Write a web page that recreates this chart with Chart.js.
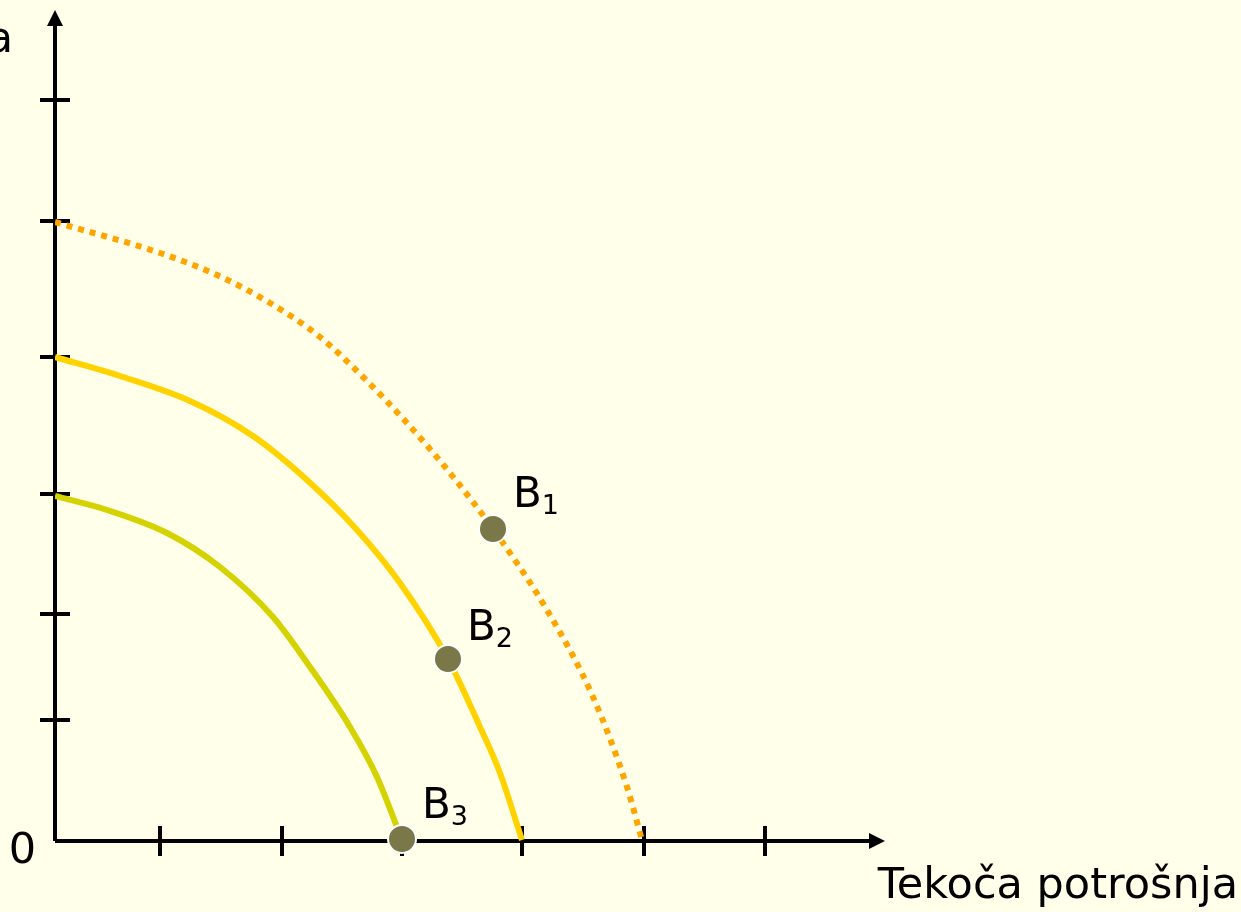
<!DOCTYPE html>
<html>
<head>
<meta charset="utf-8">
<script src="https://cdn.jsdelivr.net/npm/chart.js@4"></script>
<style>
  html, body { margin: 0; padding: 0; background: #FFFFEA; }
  #wrap { width: 1241px; height: 912px; position: relative; }
</style>
</head>
<body>
<div id="wrap"><canvas id="chart"></canvas></div>
<script>
// axis units (arbitrary, origin at 0)
const xMax = 830;
const yMax = 831;
const xTicks = [105, 227, 347, 467, 589, 710];
const yTicks = [121, 227, 347, 484, 620, 741];

// curves
const curveB1 = [
  { x: 0, y: 619 }, { x: 105, y: 588 }, { x: 162, y: 566 }, { x: 215, y: 538 },
  { x: 265, y: 504 }, { x: 308, y: 464 }, { x: 352, y: 418 }, { x: 395, y: 368 },
  { x: 438, y: 312 }, { x: 492, y: 231 }, { x: 538, y: 144 }, { x: 572, y: 54 },
  { x: 587, y: 1 }
];
const curveB2 = [
  { x: 0, y: 484 }, { x: 65, y: 465 }, { x: 135, y: 440 }, { x: 198, y: 405 },
  { x: 252, y: 361 }, { x: 302, y: 311 }, { x: 345, y: 258 }, { x: 393, y: 182 },
  { x: 425, y: 114 }, { x: 445, y: 68 }, { x: 467, y: 1 }
];
const curveB3 = [
  { x: 0, y: 345 }, { x: 52, y: 331 }, { x: 112, y: 308 }, { x: 165, y: 274 },
  { x: 218, y: 224 }, { x: 255, y: 174 }, { x: 295, y: 114 }, { x: 322, y: 64 },
  { x: 347, y: 1 }
];
const points = [
  { x: 438, y: 312, label: 'B', sub: '1' },
  { x: 393, y: 182, label: 'B', sub: '2' },
  { x: 347, y: 2, label: 'B', sub: '3' }
];
const pointLabelOffsets = [[20, -22], [19, -19], [20, -21]];
const xTitle = 'Tekoča potrošnja';
const yTitle = 'a';

const FONT = '"DejaVu Sans", Verdana, sans-serif';

const axesPlugin = {
  id: 'axes',
  beforeDatasetsDraw(chart) {
    const { ctx, scales: { x, y } } = chart;
    const x0 = x.getPixelForValue(0), y0 = y.getPixelForValue(0);
    const xEnd = x.getPixelForValue(xMax), yEnd = y.getPixelForValue(yMax);
    ctx.save();
    ctx.strokeStyle = '#000';
    ctx.fillStyle = '#000';
    ctx.lineWidth = 4;
    ctx.beginPath();
    ctx.moveTo(x0, y0);
    ctx.lineTo(xEnd - 12, y0);
    ctx.moveTo(x0, y0);
    ctx.lineTo(x0, yEnd + 12);
    ctx.stroke();
    // arrow heads
    ctx.beginPath();
    ctx.moveTo(xEnd, y0);
    ctx.lineTo(xEnd - 16, y0 - 8);
    ctx.lineTo(xEnd - 16, y0 + 8);
    ctx.closePath();
    ctx.fill();
    ctx.beginPath();
    ctx.moveTo(x0, yEnd);
    ctx.lineTo(x0 - 8, yEnd + 16);
    ctx.lineTo(x0 + 8, yEnd + 16);
    ctx.closePath();
    ctx.fill();
    // ticks
    ctx.beginPath();
    xTicks.forEach(v => {
      const px = x.getPixelForValue(v);
      ctx.moveTo(px, y0 - 15);
      ctx.lineTo(px, y0 + 15);
    });
    yTicks.forEach(v => {
      const py = y.getPixelForValue(v);
      ctx.moveTo(x0 - 15, py);
      ctx.lineTo(x0 + 15, py);
    });
    ctx.stroke();
    // texts
    ctx.font = '43px ' + FONT;
    ctx.textAlign = 'right';
    ctx.textBaseline = 'alphabetic';
    ctx.fillText('0', x0 - 19, y0 + 22);
    ctx.fillText(xTitle, 1238, 898);
    ctx.fillText(yTitle, 13, 52);
    ctx.restore();
  },
  afterDatasetsDraw(chart) {
    const { ctx, scales: { x, y } } = chart;
    ctx.save();
    ctx.fillStyle = '#000';
    ctx.textAlign = 'left';
    ctx.textBaseline = 'alphabetic';
    points.forEach((p, i) => {
      const px = x.getPixelForValue(p.x) + pointLabelOffsets[i][0];
      const py = y.getPixelForValue(p.y) + pointLabelOffsets[i][1];
      ctx.font = '42px ' + FONT;
      ctx.fillText(p.label, px, py);
      const w = ctx.measureText(p.label).width;
      ctx.font = '27px ' + FONT;
      ctx.fillText(p.sub, px + w, py + 7);
    });
    ctx.restore();
  }
};

const lineStyle = {
  order: 1,
  pointRadius: 0,
  pointHoverRadius: 0,
  borderWidth: 6,
  fill: false,
  cubicInterpolationMode: 'monotone'
};

new Chart(document.getElementById('chart'), {
  type: 'line',
  data: {
    datasets: [
      {
        data: points,
        order: 0,
        clip: false,
        showLine: false,
        pointRadius: 14,
        pointHoverRadius: 14,
        pointBackgroundColor: '#7A7848',
        pointBorderColor: '#FFFFFF',
        pointBorderWidth: 2
      },
      { ...lineStyle, data: curveB1, borderColor: '#FFA500', borderDash: [6, 6], borderCapStyle: 'butt' },
      { ...lineStyle, data: curveB2, borderColor: '#FFD200' },
      { ...lineStyle, data: curveB3, borderColor: '#D4D200' }
    ]
  },
  options: {
    responsive: true,
    maintainAspectRatio: false,
    animation: false,
    layout: { autoPadding: false, padding: { left: 55, right: 356, top: 10, bottom: 71 } },
    plugins: { legend: { display: false }, tooltip: { enabled: false } },
    scales: {
      x: { type: 'linear', min: 0, max: xMax, display: false },
      y: { type: 'linear', min: 0, max: yMax, display: false }
    }
  },
  plugins: [axesPlugin]
});
</script>
</body>
</html>
